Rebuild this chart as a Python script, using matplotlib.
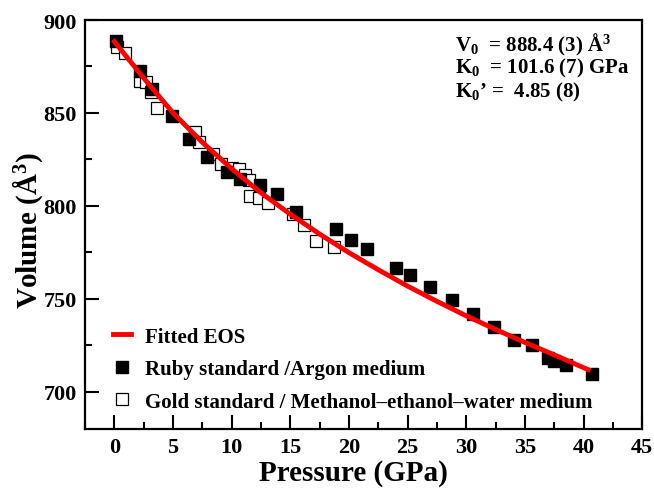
import numpy as np
import matplotlib
matplotlib.use("Agg")
import matplotlib.pyplot as plt
from matplotlib.ticker import MultipleLocator

# ---------------------------------------------------------------------------
# Data (pressure in GPa, volume in A^3)
# ---------------------------------------------------------------------------
ruby_p = [0.1, 2.2, 3.2, 4.9, 6.4, 7.9, 9.6, 10.7, 12.4, 13.9, 15.5, 18.9,
          20.2, 21.5, 24.0, 25.2, 26.9, 28.8, 30.6, 32.4, 34.1, 35.6, 37.0,
          37.5, 38.5, 40.7]
ruby_v = [888.5, 872.7, 863.0, 848.6, 836.2, 826.2, 818.1, 814.3, 811.3,
          806.5, 796.6, 787.6, 781.7, 776.9, 766.7, 763.0, 756.3, 749.5,
          742.0, 734.8, 727.6, 724.9, 718.1, 716.3, 714.1, 709.3]

gold_p = [0.2, 0.9, 2.2, 2.7, 3.1, 3.6, 6.9, 7.2, 8.4, 9.1, 10.0, 10.6,
          11.1, 11.5, 11.6, 12.3, 13.1, 15.2, 16.2, 17.2, 18.7]
gold_v = [885.5, 882.5, 867.0, 866.5, 861.5, 852.5, 839.5, 834.5, 828.0,
          822.5, 820.5, 820.0, 816.5, 814.0, 805.5, 804.0, 801.5, 795.5,
          789.5, 781.0, 778.0]

fit_p = [0, 2.5, 5, 7.5, 10, 12.5, 15, 17.5, 20, 22.5, 25, 27.5, 30, 32.5,
         35, 37.5, 40.4]
fit_v = [888.4, 868.8, 850.0, 834.2, 820.0, 807.0, 795.5, 784.8, 774.8,
         765.6, 756.8, 748.6, 740.8, 733.5, 726.5, 719.8, 711.8]

eos_lines = ["V$_0$  = 888.4 (3) \u00c5$^3$",
             "K$_0$  = 101.6 (7) GPa",
             "K$_0$\u2019 =  4.85 (8)"]

plt.rcParams["font.family"] = "Liberation Serif"
plt.rcParams["font.weight"] = "bold"
plt.rcParams["mathtext.fontset"] = "custom"
plt.rcParams["mathtext.rm"] = "Liberation Serif:bold"
plt.rcParams["mathtext.it"] = "Liberation Serif:bold"
plt.rcParams["mathtext.bf"] = "Liberation Serif:bold"

fig = plt.figure(figsize=(6.54, 4.89), dpi=100)
ax = fig.add_axes([0.130, 0.121, 0.852, 0.836])

ax.plot(gold_p, gold_v, "s", ms=8.5, mfc="white", mec="black", mew=0.9,
        label="Gold standard / Methanol\u2013ethanol\u2013water medium", zorder=2)
ax.plot(ruby_p, ruby_v, "s", ms=8.5, mfc="black", mec="black",
        label="Ruby standard /Argon medium", zorder=3)
ax.plot(fit_p, fit_v, "-", color="red", lw=3.5, label="Fitted EOS", zorder=4)

ax.set_xlim(-2.5, 45)
ax.set_ylim(680, 900)
ax.xaxis.set_major_locator(MultipleLocator(5))
ax.xaxis.set_minor_locator(MultipleLocator(2.5))
ax.yaxis.set_major_locator(MultipleLocator(50))
ax.yaxis.set_minor_locator(MultipleLocator(25))
ax.tick_params(which="both", direction="in", top=False, right=False,
               width=1.5, labelsize=16)
ax.tick_params(which="major", length=10)
ax.tick_params(which="minor", length=5)
ax.tick_params(axis="x", pad=6)
ax.tick_params(axis="y", pad=6)
for s in ax.spines.values():
    s.set_linewidth(1.6)

ax.set_xlabel("Pressure (GPa)", fontsize=21, fontweight="bold")
ax.set_ylabel("Volume (\u00c5$^3$)", fontsize=21, fontweight="bold")
ax.xaxis.set_label_coords(0.481, -0.073)
ax.yaxis.set_label_coords(-0.072, 0.487)

for i, line in enumerate(eos_lines):
    ax.text(0.664, 0.941 - 0.0575 * i, line, transform=ax.transAxes,
            fontsize=15, fontweight="bold", ha="left", va="center")

handles, labels = ax.get_legend_handles_labels()
order = [2, 1, 0]
ax.legend([handles[i] for i in order], [labels[i] for i in order],
          loc="lower left", bbox_to_anchor=(0.035, 0.022), frameon=False,
          fontsize=15, handlelength=0.87, handletextpad=0.67,
          labelspacing=0.6, borderaxespad=0.0)

fig.savefig("out.png", dpi=100)
